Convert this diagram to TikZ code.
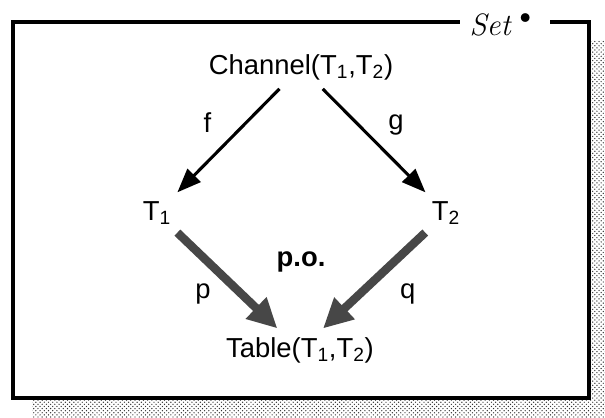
\documentclass[tikz,border=0pt]{standalone}
\usepackage{fontspec}
\setsansfont{Liberation Sans}
\usepackage{tikz}
\usetikzlibrary{positioning,arrows.meta,patterns}

\begin{document}
\begin{tikzpicture}[
    x=0.025cm, y=-0.025cm,
    on grid,
    lbl/.style={font=\sffamily\fontsize{19.5}{22}\selectfont, text=black, inner sep=2pt},
    arrow/.style={-{Triangle[length=17pt, width=13pt]}, line width=2.2pt, shorten <=6pt, shorten >=6pt},
    poarrow/.style={-{Triangle[length=21pt, width=20pt]}, line width=6pt, black!72, shorten <=5pt, shorten >=6pt}
  ]
    \useasboundingbox (0,0) rectangle (605,417);
    \fill[pattern=crosshatch dots, pattern color=black!80] (32,40) rectangle (605,417);
    \draw[line width=2.2pt, fill=white] (13,22) rectangle (589,398);
    \node[fill=white, inner xsep=7pt, inner ysep=0pt, font=\fontsize{22}{24}\selectfont] (title) at (505,25) {\textit{Set}\raisebox{0.25em}{\fontsize{28}{28}\selectfont\textbullet}};
    \node[lbl] (chan) at (301,67) {Channel(T\textsubscript{1},T\textsubscript{2})};
    \node[lbl, below left=3.65cm and 3.6cm of chan] (tA) {T\textsubscript{1}};
    \node[lbl, below right=3.65cm and 3.625cm of chan] (tB) {T\textsubscript{2}};
    \node[lbl, below right=3.425cm and 3.575cm of tA] (tab) {Table(T\textsubscript{1},T\textsubscript{2})};
    \node[lbl, font=\sffamily\bfseries\fontsize{19.5}{22}\selectfont, below=4.875cm of chan] (po) {p.o.};
    \draw[arrow] (chan) -- node[lbl, shift={(-21,-18)}]{f} (tA);
    \draw[arrow] (chan) -- node[lbl, shift={(22,-16)}]{g} (tB);
    \draw[poarrow] (tA) -- node[lbl, shift={(-25,13)}]{p} (tab);
    \draw[poarrow] (tB) -- node[lbl, shift={(34,13)}]{q} (tab);
  \end{tikzpicture}
\end{document}
